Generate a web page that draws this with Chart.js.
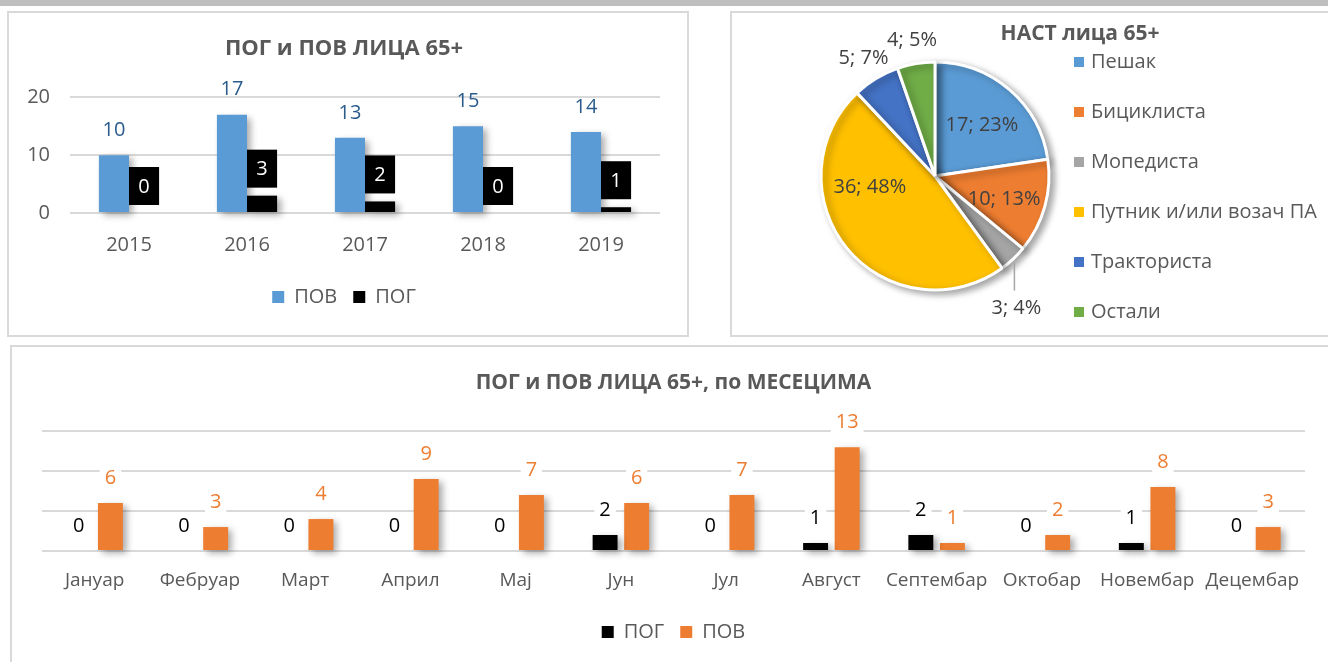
<!DOCTYPE html>
<html>
<head>
<meta charset="utf-8">
<script src="https://cdn.jsdelivr.net/npm/chart.js@4.4.1/dist/chart.umd.min.js"></script>
<style>
  html, body { margin: 0; padding: 0; background: #fff; overflow: hidden; width: 1328px; height: 662px; }
  .traka { position: absolute; left: 0; top: 0; width: 1328px; height: 6px; background: #bfbfbf; }
  .okvir { position: absolute; box-sizing: border-box; border: 2px solid #d9d9d9; background: #fff; }
  canvas { position: absolute; }
  .naslov { position: absolute; font-family: "Open Sans", sans-serif; font-weight: bold; font-size: 21px;
            color: #595959; text-align: center; line-height: 28px; }
  #legendaNast { position: absolute; left: 1074px; top: 47px; font-family: "Open Sans", sans-serif;
                 font-size: 20px; color: #595959; }
  #legendaNast div { height: 50px; line-height: 28px; white-space: nowrap; }
  #legendaNast span { display: inline-block; width: 10px; height: 10px; margin-right: 7px; vertical-align: 1px; }
</style>
</head>
<body>
<div class="traka"></div>
<div class="okvir" style="left:7px; top:11px; width:682px; height:326px;"></div>
<div class="okvir" style="left:730px; top:11px; width:700px; height:326px;"></div>
<div class="okvir" style="left:10px; top:345px; width:1330px; height:330px;"></div>

<canvas id="grafikGodine" width="681" height="325" style="left:8px; top:12px;"></canvas>
<canvas id="grafikNast" width="406" height="328" style="left:732px; top:12px;"></canvas>
<div class="naslov" style="left:960px; top:18px; width:240px;">НАСТ лица 65+</div>
<div id="legendaNast"></div>
<canvas id="grafikMeseci" width="1316" height="316" style="left:12px; top:346px;"></canvas>

<script>
// ---- podaci ----
const godine = ["2015", "2016", "2017", "2018", "2019"];
const povGodine = [10, 17, 13, 15, 14];
const pogGodine = [0, 3, 2, 0, 1];
const godineTicks = [0, 10, 20];

const kategorijeNast = ["Пешак", "Бициклиста", "Мопедиста", "Путник и/или возач ПА", "Тракториста", "Остали"];
const brojNast = [17, 10, 3, 36, 5, 4];
const bojeNast = ["#5b9bd5", "#ed7d31", "#a5a5a5", "#ffc000", "#4472c4", "#70ad47"];

const meseci = ["Јануар", "Фебруар", "Март", "Април", "Мај", "Јун", "Јул", "Август", "Септембар", "Октобар", "Новембар", "Децембар"];
const pogMeseci = [0, 0, 0, 0, 0, 2, 0, 1, 2, 0, 1, 0];
const povMeseci = [6, 3, 4, 9, 7, 6, 7, 13, 1, 2, 8, 3];

Chart.defaults.font.family = '"Open Sans", sans-serif';
Chart.defaults.color = "#595959";
Chart.defaults.animation = false;

const FONT = '"Open Sans", sans-serif';

// senka ispod stubaca i pite (kao u Excel-u)
const senka = {
    id: "senka",
    beforeDatasetDraw(chart) {
        const c = chart.ctx;
        c.save();
        c.shadowColor = "rgba(0,0,0,0.35)";
        c.shadowBlur = 7;
        c.shadowOffsetX = 4;
        c.shadowOffsetY = 3;
    },
    afterDatasetDraw(chart) {
        chart.ctx.restore();
    }
};

// oznake vrednosti iznad stubaca
const oznakeStubaca = {
    id: "oznakeStubaca",
    afterDatasetsDraw(chart) {
        const ctx = chart.ctx;
        ctx.save();
        ctx.font = "20px " + FONT;
        ctx.textAlign = "center";
        ctx.textBaseline = "middle";
        chart.data.datasets.forEach((ds, i) => {
            const meta = chart.getDatasetMeta(i);
            meta.data.forEach((bar, j) => {
                const txt = String(ds.data[j]);
                if (ds.oznaka === "crnaKutija") {
                    const w = bar.width, h = 38;
                    const yDno = bar.y - 8;
                    ctx.fillStyle = "#000";
                    ctx.fillRect(bar.x - w / 2, yDno - h, w, h);
                    ctx.fillStyle = "#fff";
                    ctx.fillText(txt, bar.x, yDno - h / 2 + 1);
                } else {
                    const y = bar.y - 25;
                    if (ds.oznakaPozadina) {
                        const tw = ctx.measureText(txt).width + 10;
                        ctx.fillStyle = ds.oznakaPozadina;
                        ctx.fillRect(bar.x - tw / 2, y - 13, tw, 26);
                    }
                    ctx.fillStyle = ds.oznakaBoja;
                    ctx.fillText(txt, bar.x, y);
                }
            });
        });
        ctx.restore();
    }
};

// ---- ПОГ и ПОВ по годинама ----
new Chart(document.getElementById("grafikGodine"), {
    type: "bar",
    data: {
        labels: godine,
        datasets: [
            { label: "ПОВ", data: povGodine, backgroundColor: "#5b9bd5", oznakaBoja: "#2a5b8c", clip: false },
            { label: "ПОГ", data: pogGodine, backgroundColor: "#000000", oznaka: "crnaKutija", clip: false }
        ]
    },
    options: {
        responsive: false,
        layout: { padding: { left: 20, right: 29, top: 0, bottom: 20 } },
        datasets: { bar: { categoryPercentage: 0.51, barPercentage: 1.0 } },
        plugins: {
            title: {
                display: true,
                text: "ПОГ и ПОВ ЛИЦА 65+",
                color: "#595959",
                font: { size: 22, weight: "bold" },
                padding: { top: 24, bottom: 35 }
            },
            legend: {
                position: "bottom",
                labels: { boxWidth: 12, boxHeight: 12, padding: 16, color: "#595959", font: { size: 20 } }
            },
            tooltip: { enabled: false }
        },
        scales: {
            x: {
                grid: { display: false, drawTicks: false },
                border: { display: false },
                ticks: { padding: 20, color: "#595959", font: { size: 20 } },
                afterFit: s => { s.height = 58; }
            },
            y: {
                min: 0,
                max: 20,
                afterBuildTicks: s => { s.ticks = godineTicks.map(v => ({ value: v })); },
                grid: { color: "#d9d9d9", lineWidth: 2, drawTicks: false },
                border: { display: false },
                ticks: { padding: 20, color: "#595959", font: { size: 20 } },
                afterFit: s => { s.width = 42; }
            }
        }
    },
    plugins: [senka, oznakeStubaca]
});

// ---- НАСТ лица 65+ (пита) ----
const oznakePite = {
    id: "oznakePite",
    afterDatasetsDraw(chart) {
        const ctx = chart.ctx;
        const meta = chart.getDatasetMeta(0);
        const data = chart.data.datasets[0].data;
        const ukupno = data.reduce((a, b) => a + b, 0);
        ctx.save();
        ctx.font = "20px " + FONT;
        ctx.fillStyle = "#404040";
        ctx.strokeStyle = "#a6a6a6";
        ctx.lineWidth = 1.5;
        ctx.textAlign = "center";
        ctx.textBaseline = "middle";
        meta.data.forEach((arc, i) => {
            const p = arc.getProps(["x", "y", "startAngle", "endAngle", "outerRadius"], true);
            const sr = (p.startAngle + p.endAngle) / 2;
            const cos = Math.cos(sr), sin = Math.sin(sr);
            const R = p.outerRadius;
            const pct = Math.round(data[i] / ukupno * 100);
            const txt = data[i] + "; " + pct + "%";
            if (pct >= 40) {
                // velika kriška: oznaka pomerena ka horizontali, kao u Excel-u
                const ug = sr * 0.25 + Math.PI * 0.75;
                const r = R * 0.58;
                ctx.fillText(txt, p.x + Math.cos(ug) * r, p.y + Math.sin(ug) * r);
            } else if (pct >= 10) {
                const r = R * 0.63;
                ctx.fillText(txt, p.x + cos * r, p.y + sin * r + 4);
            } else if (sin > 0) {
                const ex = p.x + cos * (R + 2), ey = p.y + sin * (R + 2);
                ctx.beginPath();
                ctx.moveTo(ex, ey + 2);
                ctx.lineTo(ex, ey + 30);
                ctx.stroke();
                ctx.fillText(txt, ex + 2, ey + 48);
            } else {
                const r = R + 24;
                ctx.fillText(txt, p.x + cos * r, p.y + sin * r);
            }
        });
        ctx.restore();
    }
};

new Chart(document.getElementById("grafikNast"), {
    type: "pie",
    data: {
        labels: kategorijeNast,
        datasets: [{
            data: brojNast,
            backgroundColor: bojeNast,
            borderColor: "#ffffff",
            borderWidth: 3
        }]
    },
    options: {
        responsive: false,
        radius: 114,
        layout: { padding: 0 },
        plugins: {
            legend: { display: false },
            tooltip: { enabled: false }
        }
    },
    plugins: [senka, oznakePite]
});

// legenda pite (HTML, zbog dugačkog naziva kategorije)
const legendaNast = document.getElementById("legendaNast");
kategorijeNast.forEach((naziv, i) => {
    const red = document.createElement("div");
    const kv = document.createElement("span");
    kv.style.background = bojeNast[i];
    red.appendChild(kv);
    red.appendChild(document.createTextNode(naziv));
    legendaNast.appendChild(red);
});

// ---- ПОГ и ПОВ по месецима ----
new Chart(document.getElementById("grafikMeseci"), {
    type: "bar",
    data: {
        labels: meseci,
        datasets: [
            { label: "ПОГ", data: pogMeseci, backgroundColor: "#000000", oznakaBoja: "#000000", oznakaPozadina: "#ffffff", clip: false },
            { label: "ПОВ", data: povMeseci, backgroundColor: "#ed7d31", oznakaBoja: "#ed7d31", oznakaPozadina: "#ffffff", clip: false }
        ]
    },
    options: {
        responsive: false,
        layout: { padding: { left: 30, right: 23, top: 0, bottom: 10 } },
        datasets: { bar: { categoryPercentage: 0.6, barPercentage: 0.79 } },
        plugins: {
            title: {
                display: true,
                text: "ПОГ и ПОВ ЛИЦА 65+, по МЕСЕЦИМА",
                color: "#595959",
                font: { size: 21, weight: "bold" },
                padding: { top: 24, bottom: 36 }
            },
            legend: {
                position: "bottom",
                labels: { boxWidth: 12, boxHeight: 12, padding: 16, color: "#595959", font: { size: 20 } }
            },
            tooltip: { enabled: false }
        },
        scales: {
            x: {
                grid: { display: false, drawTicks: false },
                border: { display: false },
                ticks: { padding: 18, color: "#595959", font: { size: 19 }, autoSkip: false, maxRotation: 0 },
                afterFit: s => { s.height = 55; }
            },
            y: {
                min: 0,
                max: 15,
                ticks: { display: false, stepSize: 5 },
                grid: { color: "#d9d9d9", lineWidth: 2, drawTicks: false },
                border: { display: false },
                afterFit: s => { s.width = 0; }
            }
        }
    },
    plugins: [senka, oznakeStubaca]
});
</script>
</body>
</html>
